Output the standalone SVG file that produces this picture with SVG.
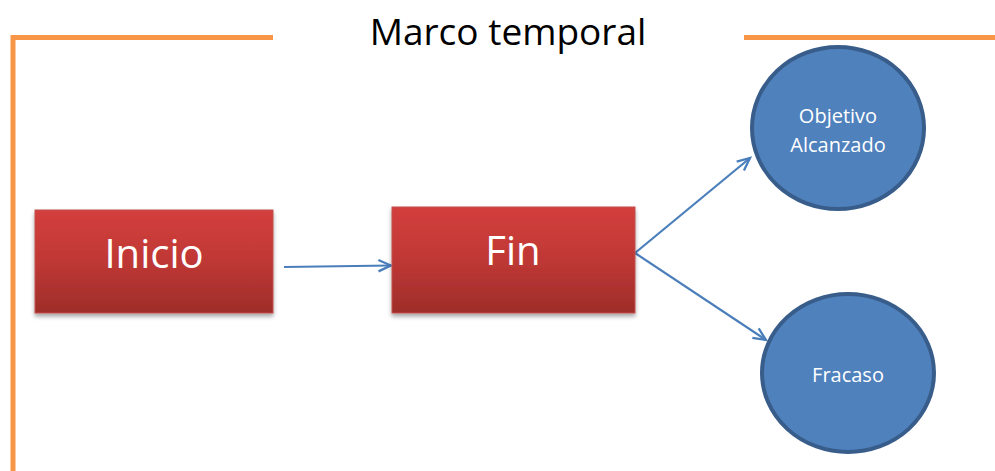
<svg xmlns="http://www.w3.org/2000/svg" width="995" height="471" viewBox="0 0 995 471">
<style>
.frame{stroke:#f79646;stroke-width:5;fill:none}
.box{fill:url(#red);stroke:#c0504d;stroke-width:1;filter:url(#sh)}
.circ{fill:#4f81bd;stroke:#385d8a;stroke-width:4}
.conn{stroke:#4a7ebb;stroke-width:2.2;fill:none;marker-end:url(#arr)}
.big{font-family:"Open Sans","Liberation Sans",sans-serif;fill:#fff;text-anchor:middle}
.small{font-family:"Open Sans","Liberation Sans",sans-serif;fill:#fff;font-size:20px;text-anchor:middle}
.title{font-family:"Open Sans","Liberation Sans",sans-serif;fill:#000;font-size:37px;text-anchor:middle}
</style>
<defs>
<linearGradient id="red" x1="0" y1="0" x2="0" y2="1">
<stop offset="0" stop-color="#d33f3c"/>
<stop offset="0.5" stop-color="#bf3835"/>
<stop offset="1" stop-color="#9e2d2a"/>
</linearGradient>
<filter id="sh" x="-10%" y="-10%" width="120%" height="130%">
<feDropShadow dx="0" dy="3" stdDeviation="2" flood-color="#000" flood-opacity="0.35"/>
</filter>
<marker id="arr" markerWidth="16" markerHeight="16" refX="12" refY="6" orient="auto" markerUnits="userSpaceOnUse" viewBox="0 0 14 12">
<path d="M1,1 L12,6 L1,11" fill="none" stroke="#4a7ebb" stroke-width="2"/>
</marker>
</defs>
<g id="frame">
<path class="frame" d="M273,37.5 H13 V471"/>
<path class="frame" d="M744,37.5 H995"/>
<text class="title" x="508" y="45">Marco temporal</text>
</g>
<g id="connectors">
<path class="conn" d="M284,267 L391,265.5"/>
<path class="conn" d="M635,253 L750,158"/>
<path class="conn" d="M635,253 L766,340"/>
</g>
<g id="inicio">
<rect class="box" x="35" y="210" width="238" height="103"/>
<text class="big" x="154" y="268" font-size="40">Inicio</text>
</g>
<g id="fin">
<rect class="box" x="392" y="207" width="243" height="106"/>
<text class="big" x="513" y="265" font-size="40">Fin</text>
</g>
<g id="objetivo">
<ellipse class="circ" cx="838" cy="128" rx="86" ry="81"/>
<text class="small" x="838" y="123">Objetivo</text>
<text class="small" x="838" y="152">Alcanzado</text>
</g>
<g id="fracaso">
<ellipse class="circ" cx="848" cy="373" rx="86" ry="79"/>
<text class="small" x="848" y="382">Fracaso</text>
</g>
</svg>
